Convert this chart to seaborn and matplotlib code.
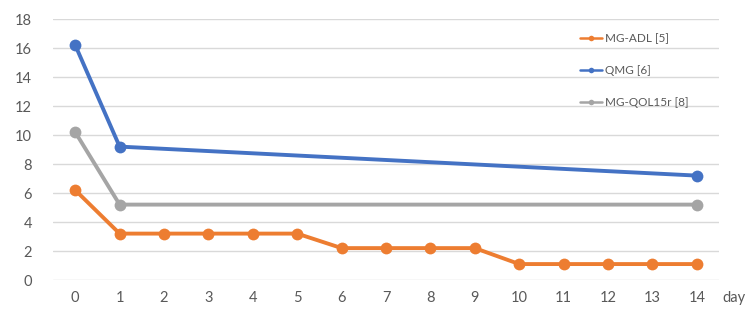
import pandas as pd
import matplotlib.pyplot as plt
import seaborn as sns

# values
days = list(range(15))
adl_days = days
adl_scores = [6.2, 3.2, 3.2, 3.2, 3.2, 3.2, 2.2, 2.2, 2.2, 2.2, 1.1, 1.1, 1.1, 1.1, 1.1]
qmg_days = [0, 1, 14]
qmg_scores = [16.2, 9.2, 7.2]
qol_days = [0, 1, 14]
qol_scores = [10.2, 5.2, 5.2]

series = [
    ("MG-ADL [5]", adl_days, adl_scores, "#ED7D31"),
    ("QMG [6]", qmg_days, qmg_scores, "#4472C4"),
    ("MG-QOL15r [8]", qol_days, qol_scores, "#A5A5A5"),
]

sns.set_theme(style="white")
plt.rcParams['font.family'] = ['Lato', 'DejaVu Sans']

fig = plt.figure(figsize=(7.5, 3.21), dpi=100)
ax = fig.add_axes([0.0707, 0.1277, 0.888, 0.8131])

for name, x, y, col in series:
    df = pd.DataFrame({"day": x, "score": y})
    sns.lineplot(data=df, x="day", y="score", ax=ax, color=col, linewidth=2.8,
                 marker="o", markersize=8.5, markeredgewidth=0, label=name)

ax.set_xlim(-0.5, 14.5)
ax.set_ylim(0, 18)
ax.set_xticks(days)
ax.set_yticks(range(0, 19, 2))
ax.grid(axis="y", color="#D9D9D9", linewidth=1)
ax.set_axisbelow(True)
for s in ax.spines.values():
    s.set_visible(False)
ax.tick_params(axis="both", length=0, labelsize=10.5, labelcolor="#595959")
ax.tick_params(axis="x", pad=8)
ax.tick_params(axis="y", pad=15)
ax.set_xlabel("")
ax.set_ylabel("")
ax.text(1.005, -0.07, "day", transform=ax.transAxes, fontsize=10.5,
        color="#595959", va="center", ha="left")

leg = ax.legend(loc="upper left", bbox_to_anchor=(0.775, 0.985), frameon=False,
                fontsize=8.5, labelspacing=1.75, handlelength=1.9, handletextpad=0.2,
                labelcolor="#595959")
for h in leg.legend_handles:
    h.set_linewidth(1.8)
    h.set_markersize(4)

fig.savefig("out.png", dpi=100)
